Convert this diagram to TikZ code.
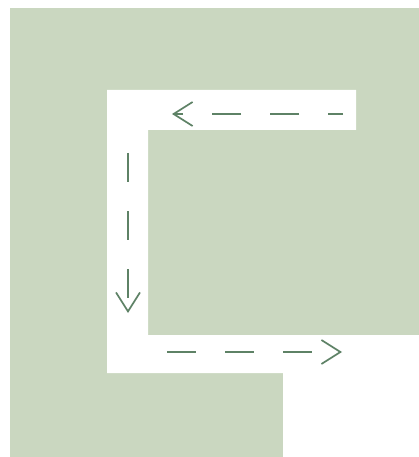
\documentclass[tikz,border=0pt]{standalone}
\usetikzlibrary{arrows.meta}
\definecolor{bggreen}{HTML}{CAD7C0}
\definecolor{flow}{HTML}{5E8266}
\tikzset{
  flowline/.style={draw=flow, line width=1.7pt, dash pattern=on 29pt off 29pt,
    -{Straight Barb[length=19pt,width=24pt,line width=1.7pt]}},
}
\begin{document}
\begin{tikzpicture}[x=1pt,y=-1pt]
\useasboundingbox (0,0) rectangle (419,457);
\fill[white] (0,0) rectangle (419,457);
\fill[bggreen] (10,8) rectangle (419,457);
\fill[white] (107,90) -- (356,90) -- (356,130) -- (148,130) -- (148,335)
  -- (419,335) -- (419,457) -- (283,457) -- (283,373) -- (107,373) -- cycle;
\coordinate (t1) at (343,114);
\coordinate (t2) at (172,114);
\coordinate (v1) at (128,153);
\coordinate (v2) at (128,313);
\coordinate (b1) at (167,352);
\coordinate (b2) at (342,352);
\draw[flowline, dash phase=14pt] (t1) -- (t2);
\draw[flowline] (v1) -- (v2);
\draw[flowline] (b1) -- (b2);
\end{tikzpicture}
\end{document}
